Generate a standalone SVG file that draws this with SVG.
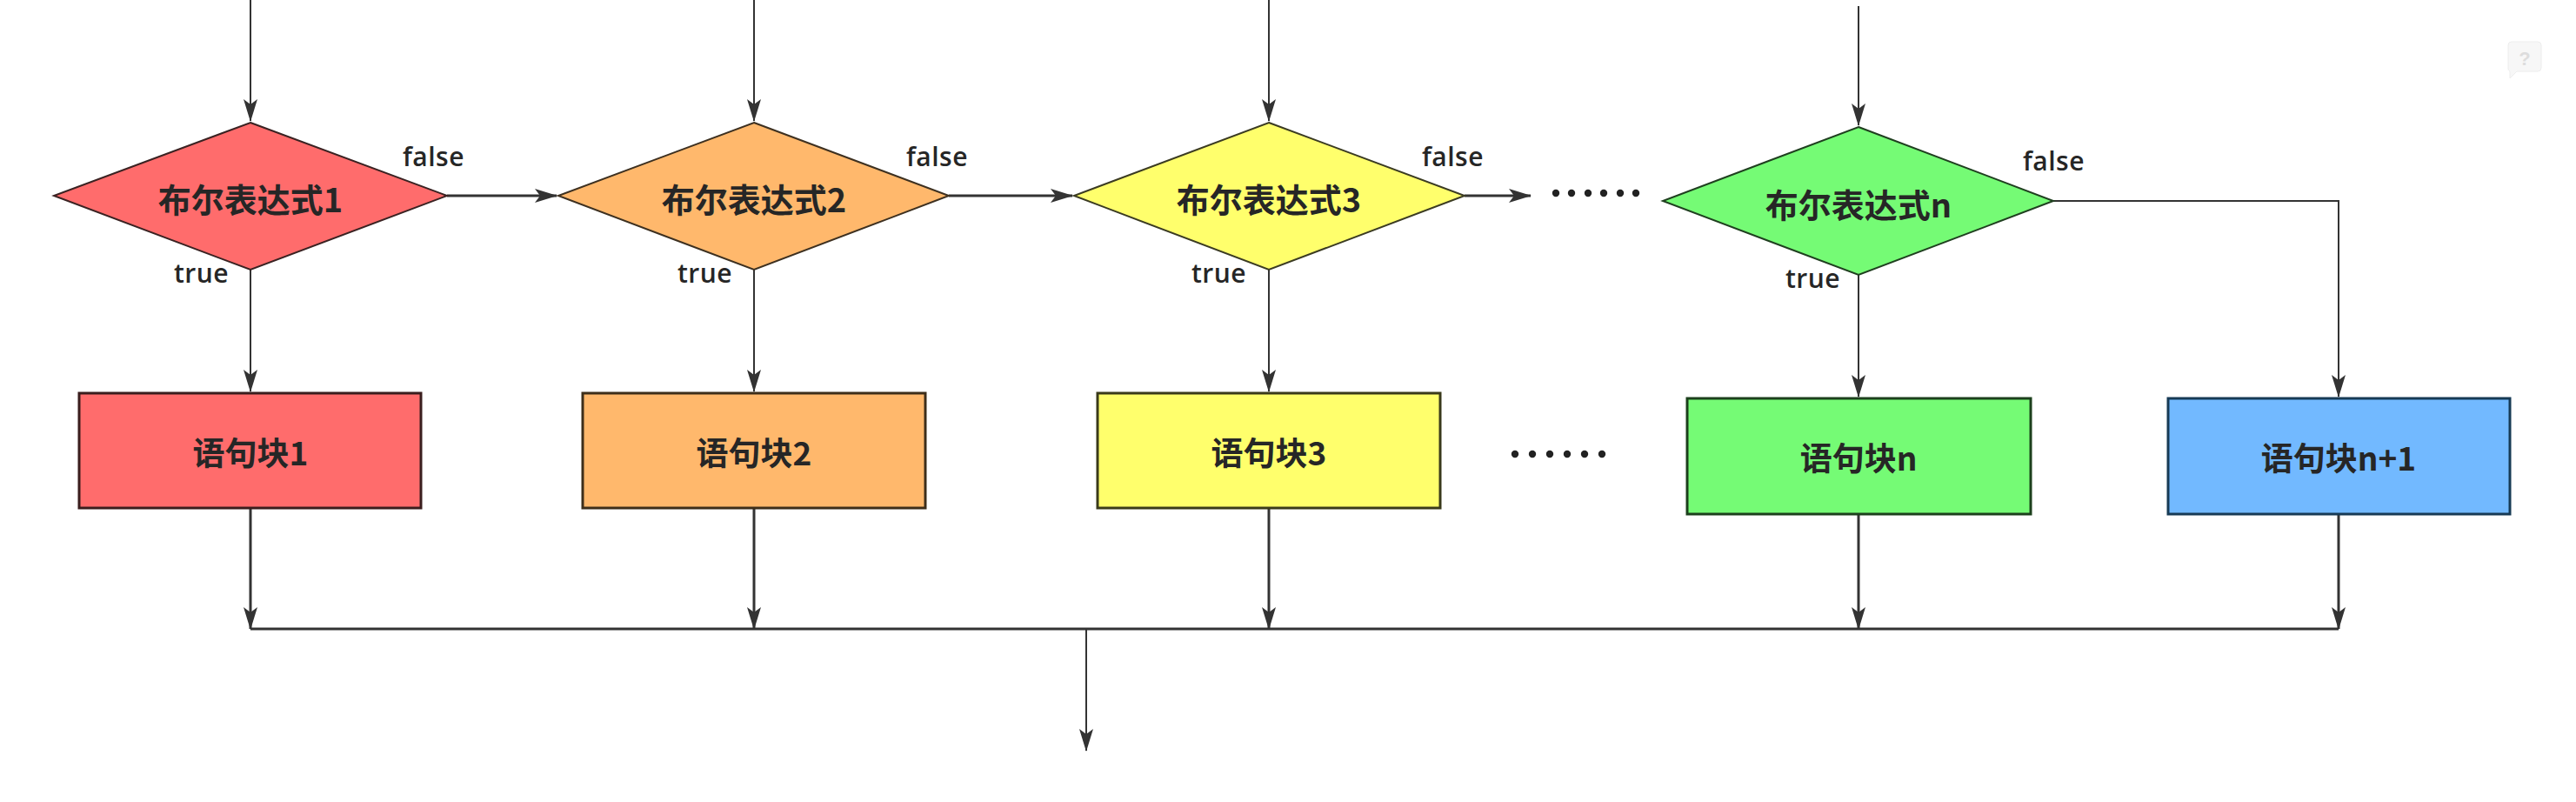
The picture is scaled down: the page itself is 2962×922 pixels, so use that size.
<svg xmlns="http://www.w3.org/2000/svg" width="2962" height="922" viewBox="0 0 2962 922">
<style>
.bg{fill:#ffffff}
.node text.lbl{font-family:"Noto Sans CJK SC","Noto Sans",sans-serif;font-weight:700;fill:#262626;text-anchor:middle;dominant-baseline:central}
.d-lbl{font-size:38px}
.r-lbl{font-size:37px}
.tf{font-family:"Open Sans","Noto Sans",sans-serif;font-size:30px;font-weight:600;fill:#262626;letter-spacing:0.5px}
.ln{fill:none;stroke:#333333;stroke-width:2}
.ln3{fill:none;stroke:#333333;stroke-width:3}
.red{fill:#FF6C6C}
.org{fill:#FFB86C}
.yel{fill:#FFFF6C}
.grn{fill:#75FB75}
.blu{fill:#72B9FF}
.dot{fill:#222222}
</style>
<defs>
<marker id="arr" markerUnits="userSpaceOnUse" markerWidth="26" markerHeight="16" refX="25" refY="8" orient="auto" viewBox="0 0 26 16">
<path d="M0,0 L26,8 L0,16 L6,8 Z" fill="#333333"/>
</marker>
</defs>
<rect class="bg" x="0" y="0" width="2962" height="922"/>

<g id="connectors">
<path class="ln" d="M288,0 V139" marker-end="url(#arr)"/>
<path class="ln" d="M867,0 V139" marker-end="url(#arr)"/>
<path class="ln" d="M1459,0 V139" marker-end="url(#arr)"/>
<path class="ln" d="M2137,7 V144" marker-end="url(#arr)"/>
<path class="ln" d="M288,310 V450" marker-end="url(#arr)"/>
<path class="ln" d="M867,310 V450" marker-end="url(#arr)"/>
<path class="ln" d="M1459,310 V450" marker-end="url(#arr)"/>
<path class="ln" d="M2137,316 V456" marker-end="url(#arr)"/>
<path class="ln3" d="M514,225 H640" marker-end="url(#arr)"/>
<path class="ln3" d="M1091,225 H1233" marker-end="url(#arr)"/>
<path class="ln3" d="M1684,225 H1760" marker-end="url(#arr)"/>
<path class="ln" d="M2361,231 H2689 V456" marker-end="url(#arr)"/>
<path class="ln3" d="M288,584 V723" marker-end="url(#arr)"/>
<path class="ln3" d="M867,584 V723" marker-end="url(#arr)"/>
<path class="ln3" d="M1459,584 V723" marker-end="url(#arr)"/>
<path class="ln3" d="M2137,591 V723" marker-end="url(#arr)"/>
<path class="ln3" d="M2689,591 V723" marker-end="url(#arr)"/>
<path class="ln3" d="M288,723 H2689"/>
<path class="ln" d="M1249,723 V863" marker-end="url(#arr)"/>
<text class="tf" x="463" y="191">false</text>
<text class="tf" x="1042" y="191">false</text>
<text class="tf" x="1635" y="191">false</text>
<text class="tf" x="2326" y="196">false</text>
<text class="tf" x="200" y="325">true</text>
<text class="tf" x="779" y="325">true</text>
<text class="tf" x="1370" y="325">true</text>
<text class="tf" x="2053" y="331">true</text>
</g>

<g id="dots-top">
<circle class="dot" cx="1789" cy="222" r="4.2"/>
<circle class="dot" cx="1807" cy="222" r="4.2"/>
<circle class="dot" cx="1826" cy="222" r="4.2"/>
<circle class="dot" cx="1844" cy="222" r="4.2"/>
<circle class="dot" cx="1863" cy="222" r="4.2"/>
<circle class="dot" cx="1881" cy="222" r="4.2"/>
</g>
<g id="dots-bottom">
<circle class="dot" cx="1742" cy="522" r="4.2"/>
<circle class="dot" cx="1762" cy="522" r="4.2"/>
<circle class="dot" cx="1782" cy="522" r="4.2"/>
<circle class="dot" cx="1802" cy="522" r="4.2"/>
<circle class="dot" cx="1822" cy="522" r="4.2"/>
<circle class="dot" cx="1842" cy="522" r="4.2"/>
</g>

<g id="cond1" class="node">
<polygon class="red" points="288,141 514,225 288,310 62,225" stroke="#3a2222" stroke-width="2"/>
<text class="lbl d-lbl" x="288" y="227">布尔表达式1</text>
</g>
<g id="cond2" class="node">
<polygon class="org" points="867,141 1091,225 867,310 642,225" stroke="#3d3020" stroke-width="2"/>
<text class="lbl d-lbl" x="867" y="227">布尔表达式2</text>
</g>
<g id="cond3" class="node">
<polygon class="yel" points="1459,141 1684,225 1459,310 1235,225" stroke="#3b3b22" stroke-width="2"/>
<text class="lbl d-lbl" x="1459" y="227">布尔表达式3</text>
</g>
<g id="condn" class="node">
<polygon class="grn" points="2137,146 2361,231 2137,316 1912,231" stroke="#1f3f1f" stroke-width="2"/>
<text class="lbl d-lbl" x="2137" y="233">布尔表达式n</text>
</g>

<g id="block1" class="node">
<rect class="red" x="91" y="452" width="393" height="132" stroke="#3a1e1e" stroke-width="3"/>
<text class="lbl r-lbl" x="288" y="519">语句块1</text>
</g>
<g id="block2" class="node">
<rect class="org" x="670" y="452" width="394" height="132" stroke="#3d2e1a" stroke-width="3"/>
<text class="lbl r-lbl" x="867" y="519">语句块2</text>
</g>
<g id="block3" class="node">
<rect class="yel" x="1262" y="452" width="394" height="132" stroke="#3a3a1a" stroke-width="3"/>
<text class="lbl r-lbl" x="1459" y="519">语句块3</text>
</g>
<g id="blockn" class="node">
<rect class="grn" x="1940" y="458" width="395" height="133" stroke="#1c401c" stroke-width="3"/>
<text class="lbl r-lbl" x="2137" y="525">语句块n</text>
</g>
<g id="blockn1" class="node">
<rect class="blu" x="2493" y="458" width="393" height="133" stroke="#173a55" stroke-width="3"/>
<text class="lbl r-lbl" x="2689" y="525">语句块n+1</text>
</g>

<g id="help-icon" opacity="0.6">
<path d="M2888,48 h30 a4,4 0 0 1 4,4 v26 a4,4 0 0 1 -4,4 h-24 l-8,8 v-8 a4,4 0 0 1 -2,-4 v-26 a4,4 0 0 1 4,-4 z" fill="#f2f2f2" stroke="#e2e2e2" stroke-width="1"/>
<text x="2903" y="75" font-family="Liberation Sans, sans-serif" font-size="22" font-weight="700" fill="#c8c8c8" text-anchor="middle">?</text>
</g>
</svg>
